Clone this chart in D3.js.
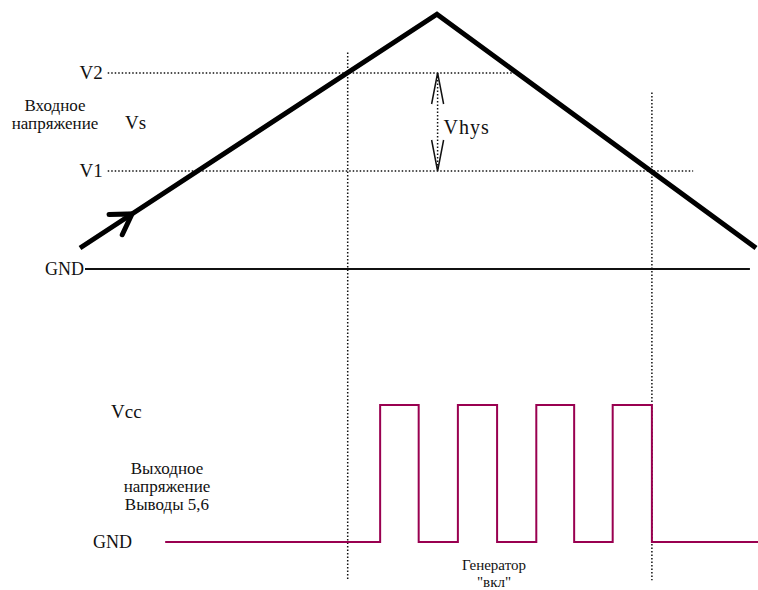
<!DOCTYPE html>
<html>
<head>
<meta charset="utf-8">
<script src="https://cdn.jsdelivr.net/npm/d3@7"></script>
<style>
  body { margin: 0; background: #fff; }
  text { font-family: "Liberation Serif", "DejaVu Serif", serif; fill: #111; }
</style>
</head>
<body>
<div id="chart"></div>
<script>
(function hysteresis(){
// time axis is in arbitrary units 0..100, voltages in units of threshold steps
const inputT = [0, 52.8, 100];
const inputV = [0.214, 2.6, 0.214];

const levelNames = ["V1", "V2"];
const levelValues = [1, 2];
const levelEnds = [90.7, 65.1];

const waveT = [12.6, 44.4, 50.1, 55.9, 61.7, 67.5, 73.1, 78.8, 84.6, 100.3];
const waveV = [0, 1, 0, 1, 0, 1, 0, 1, 0, 0];

const markerT = [39.6, 84.6];
const markerTop = [2.21, 1.8];
const markerBottom = -0.28;

const arrowT = 7.7;
const hysT = 52.9;

const width = 758, height = 590;

const svg = d3.select("#chart")
  .append("svg")
    .attr("width", width)
    .attr("height", height);

const x = d3.scaleLinear().domain([0, 100]).range([80, 756]);
const yIn = d3.scaleLinear().domain([0, 2]).range([269, 73]);
const yOut = d3.scaleLinear().domain([0, 1]).range([542, 405]);

// vertical dotted markers
svg.selectAll(".marker")
  .data(markerT)
  .join("line")
    .attr("x1", d => x(d)).attr("x2", d => x(d))
    .attr("y1", (d, i) => yIn(markerTop[i]))
    .attr("y2", yOut(markerBottom))
    .attr("stroke", "#111")
    .attr("stroke-width", 1.5)
    .attr("stroke-dasharray", "1.5,2");

// threshold lines
svg.selectAll(".level")
  .data(levelValues)
  .join("line")
    .attr("x1", x(4.1))
    .attr("x2", (d, i) => x(levelEnds[i]))
    .attr("y1", d => yIn(d)).attr("y2", d => yIn(d))
    .attr("stroke", "#111")
    .attr("stroke-width", 1.5)
    .attr("stroke-dasharray", "1.5,2");

svg.selectAll(".levelLabel")
  .data(levelValues)
  .join("text")
    .attr("x", x(4.1) - 5)
    .attr("y", d => yIn(d) + 6)
    .attr("text-anchor", "end")
    .style("font-size", "19px")
    .text((d, i) => levelNames[i]);

// ground
svg.append("line")
  .attr("x1", x(0.74)).attr("x2", x(99.1))
  .attr("y1", yIn(0)).attr("y2", yIn(0))
  .attr("stroke", "#111")
  .attr("stroke-width", 2);

svg.append("text")
  .attr("x", x(0.74) - 1).attr("y", yIn(0) + 6)
  .attr("text-anchor", "end")
  .style("font-size", "18px")
  .text("GND");

// input triangle
const inputPts = inputT.map((t, i) => [x(t), yIn(inputV[i])]);
svg.append("path")
  .attr("d", d3.line()(inputPts))
  .attr("fill", "none")
  .attr("stroke", "#000")
  .attr("stroke-width", 5)
  .attr("stroke-linejoin", "miter");

// direction arrow on the rising edge
const p0 = inputPts[0], p1 = inputPts[1];
const k = arrowT / (inputT[1] - inputT[0]);
const tip = [p0[0] + (p1[0] - p0[0]) * k, p0[1] + (p1[1] - p0[1]) * k];
const back = Math.atan2(p0[1] - p1[1], p0[0] - p1[0]);
const wing = a => [tip[0] + 23 * Math.cos(back + a), tip[1] + 23 * Math.sin(back + a)];
svg.append("path")
  .attr("d", d3.line()([wing(0.55), tip, wing(-0.55)]))
  .attr("fill", "none")
  .attr("stroke", "#000")
  .attr("stroke-width", 5)
  .attr("stroke-linecap", "round");

// hysteresis arrow
const hx = x(hysT);
svg.append("line")
  .attr("x1", hx).attr("x2", hx)
  .attr("y1", yIn(2)).attr("y2", yIn(1))
  .attr("stroke", "#111")
  .attr("stroke-width", 1.5)
  .attr("stroke-dasharray", "1.5,2");

[[yIn(2), 1], [yIn(1), -1]].forEach(([ty, dir]) => {
  svg.append("path")
    .attr("d", d3.line()([[hx - 6, ty + dir * 31], [hx, ty], [hx + 6, ty + dir * 31]]))
    .attr("fill", "none")
    .attr("stroke", "#111")
    .attr("stroke-width", 1.5);
});

svg.append("text")
  .attr("x", hx + 6).attr("y", (yIn(1) + yIn(2)) / 2 + 12)
  .style("font-size", "20px")
  .style("letter-spacing", "1px")
  .text("Vhys");

svg.append("text")
  .attr("x", 125).attr("y", 129)
  .style("font-size", "19px")
  .text("Vs");

svg.append("text")
  .attr("text-anchor", "middle")
  .style("font-size", "17px")
  .selectAll("tspan")
  .data(["Входное", "напряжение"])
  .join("tspan")
    .attr("x", 55)
    .attr("y", (d, i) => 111 + i * 18)
    .text(d => d);

// output square wave
svg.append("path")
  .attr("d", d3.line()
    .x((d, i) => x(waveT[i]))
    .y(d => yOut(d))
    .curve(d3.curveStepAfter)(waveV))
  .attr("fill", "none")
  .attr("stroke", "#990050")
  .attr("stroke-width", 2);

svg.append("text")
  .attr("x", 111).attr("y", yOut(1) + 13)
  .style("font-size", "19px")
  .text("Vcc");

svg.append("text")
  .attr("x", 93).attr("y", yOut(0) + 6)
  .style("font-size", "18px")
  .text("GND");

svg.append("text")
  .attr("text-anchor", "middle")
  .style("font-size", "17px")
  .selectAll("tspan")
  .data(["Выходное", "напряжение", "Выводы 5,6"])
  .join("tspan")
    .attr("x", 167)
    .attr("y", (d, i) => 474 + i * 18)
    .text(d => d);

svg.append("text")
  .attr("text-anchor", "middle")
  .style("font-size", "15px")
  .selectAll("tspan")
  .data(["Генератор", "\"вкл\""])
  .join("tspan")
    .attr("x", 494)
    .attr("y", (d, i) => 570 + i * 17)
    .text(d => d);

})();
</script>
</body>
</html>
